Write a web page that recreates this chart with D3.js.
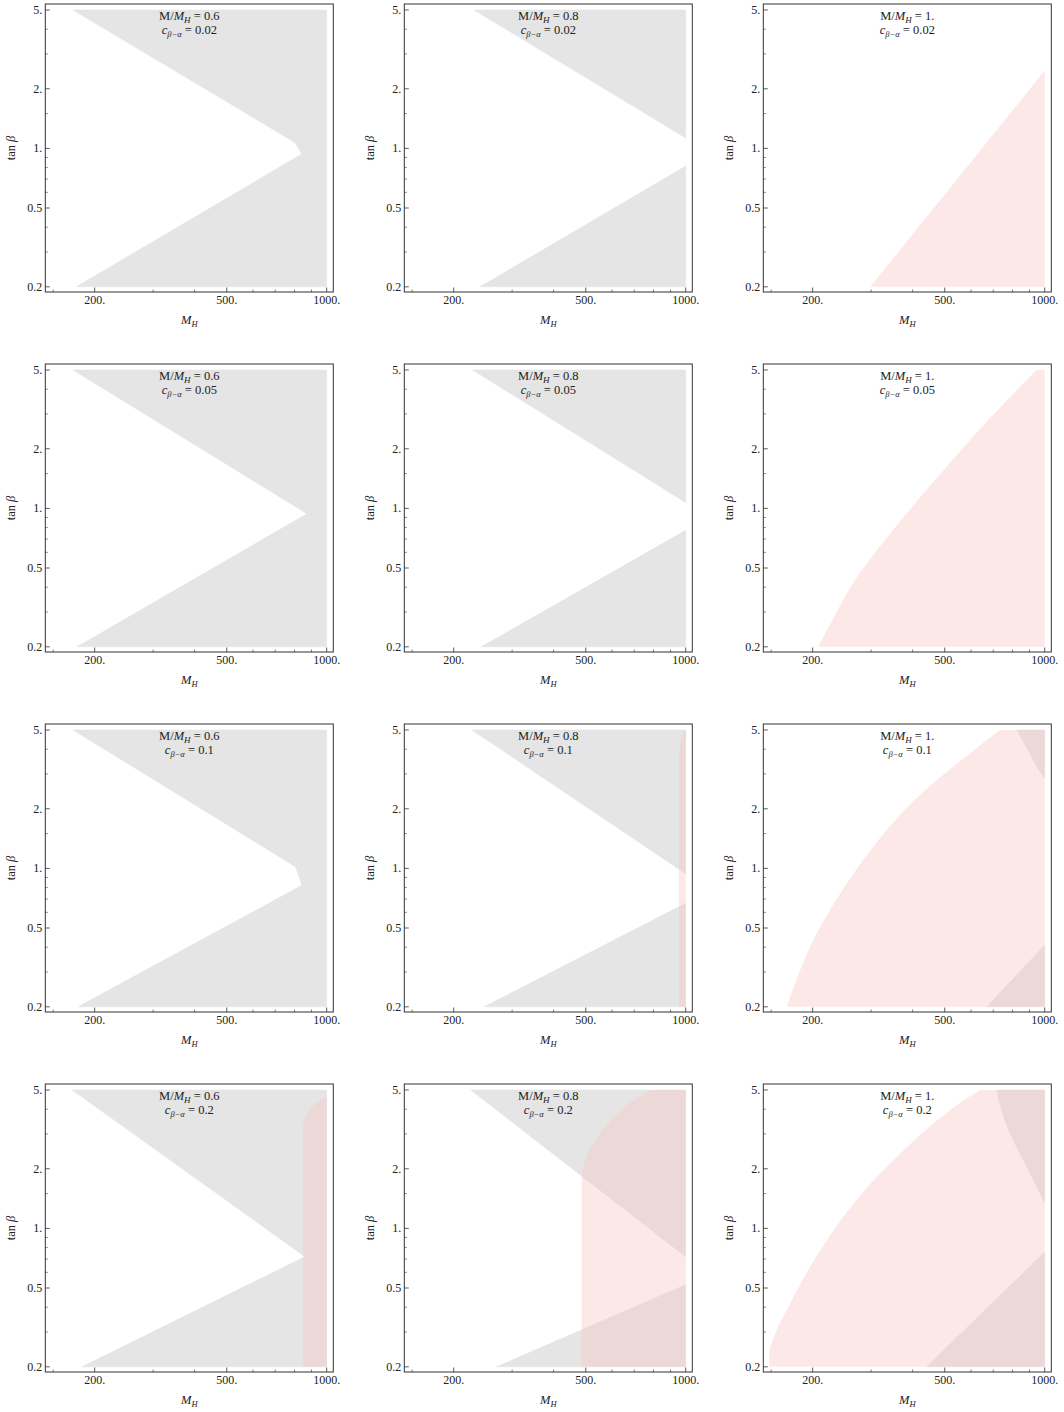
<!DOCTYPE html>
<html><head><meta charset="utf-8">
<script src="https://cdn.jsdelivr.net/npm/d3@7"></script>
<style>
html,body{margin:0;padding:0;background:#fff;}
svg{display:block;}
text{font-family:"Liberation Serif","Times New Roman",serif;fill:#222;}
</style></head>
<body>
<svg id="chart" width="1064" height="1412"></svg>
<script>
// ---------- data ----------
const massRatios = ["0.6", "0.8", "1."];          // columns
const cosBA = ["0.02", "0.05", "0.1", "0.2"];      // rows
const xMajorTicks = [200, 500, 1000];
const xMajorLabels = ["200.", "500.", "1000."];
const xMinorTicks = [150, 300, 400, 600, 700, 800, 900];
const yMajorTicks = [0.2, 0.5, 1, 2, 5];
const yMajorLabels = ["0.2", "0.5", "1.", "2.", "5."];
const yMinorTicks = [0.3, 0.4, 0.6, 0.7, 0.8, 0.9, 1.5, 3, 4];
const xDomain = [142, 1047];
const yDomain = [0.1883, 5.36];

// regions, points are [M_H, tan beta]; "edge" = smooth boundary, "corners" = straight part
const grey_06_002 = {edge: [], corners: [[172,5],[1000,5],[1000,0.2],[176,0.2],[841,0.937],[803,1.069]]};
const grey_06_005 = {edge: [], corners: [[172,5],[1000,5],[1000,0.2],[177,0.2],[872,0.94]]};
const grey_06_01  = {edge: [], corners: [[172,5],[1000,5],[1000,0.2],[178,0.2],[840,0.82],[835,0.86],[805,1.02]]};
const grey_06_02  = {edge: [], corners: [[171,5],[1000,5],[1000,0.2],[183,0.2],[860,0.72]]};
const pink_06_02  = {edge: [[850,3.4],[870,3.81],[911,4.2],[955,4.45],[1000,4.6]], corners: [[1000,0.2],[850,0.2]]};

const greyUp_08_002 = {edge: [], corners: [[230,5],[1000,5],[1000,1.13]]};
const greyLo_08_002 = {edge: [], corners: [[240,0.2],[1000,0.2],[1000,0.815]]};
const greyUp_08_005 = {edge: [], corners: [[228,5],[1000,5],[1000,1.07]]};
const greyLo_08_005 = {edge: [], corners: [[242,0.2],[1000,0.2],[1000,0.775]]};
const greyUp_08_01  = {edge: [], corners: [[227,5],[1000,5],[1000,0.94]]};
const greyLo_08_01  = {edge: [], corners: [[247,0.2],[1000,0.2],[1000,0.667]]};
const pink_08_01    = {edge: [[955,3.8],[962,4.2],[975,4.6],[993,5]], corners: [[1000,5],[1000,0.2],[955,0.2]]};
const greyUp_08_02  = {edge: [], corners: [[225,5],[1000,5],[1000,0.72]]};
const greyLo_08_02  = {edge: [], corners: [[269,0.2],[1000,0.2],[1000,0.52]]};
const pink_08_02    = {edge: [[486,1.82],[497,2.3],[540,2.9],[605,3.67],[695,4.45],[781,5]], corners: [[1000,5],[1000,0.2],[486,0.2]]};

const pink_1_002 = {edge: [], corners: [[298,0.2],[1000,0.2],[1000,2.47]]};
const pink_1_005 = {edge: [[208,0.2],[236,0.3],[259,0.4],[283,0.5],[393,1],[564,2],[700,3],[946,5]], corners: [[1000,5],[1000,0.2]]};
const pink_1_01  = {edge: [[167,0.2],[182,0.3],[196,0.4],[209,0.5],[268,1],[375,2],[495,3],[733,5]], corners: [[1000,5],[1000,0.2]]};
const greyUp_1_01 = {edge: [[823,5],[860,4.4],[903,3.8],[950,3.2],[1000,2.85]], corners: [[1000,5]]};
const greyLo_1_01 = {edge: [], corners: [[669,0.2],[1000,0.2],[1000,0.41]]};
const pink_1_02  = {edge: [[148,0.24],[154,0.3],[169,0.40],[190,0.59],[226,0.94],[284,1.56],[358,2.3],[451,3.3],[569,4.45],[639,5]], corners: [[1000,5],[1000,0.2],[148,0.2]]};
const greyUp_1_02 = {edge: [[717,5],[735,4.1],[768,3.3],[810,2.7],[862,2.22],[903,1.9],[950,1.6],[1000,1.34]], corners: [[1000,5]]};
const greyLo_1_02 = {edge: [], corners: [[441,0.2],[1000,0.2],[1000,0.76]]};

// panel table: [col,row] -> regions
const panels = [
  {c:0, r:0, grey:[grey_06_002], pink:[]},
  {c:0, r:1, grey:[grey_06_005], pink:[]},
  {c:0, r:2, grey:[grey_06_01], pink:[]},
  {c:0, r:3, grey:[grey_06_02], pink:[pink_06_02]},
  {c:1, r:0, grey:[greyUp_08_002, greyLo_08_002], pink:[]},
  {c:1, r:1, grey:[greyUp_08_005, greyLo_08_005], pink:[]},
  {c:1, r:2, grey:[greyUp_08_01, greyLo_08_01], pink:[pink_08_01]},
  {c:1, r:3, grey:[greyUp_08_02, greyLo_08_02], pink:[pink_08_02]},
  {c:2, r:0, grey:[], pink:[pink_1_002]},
  {c:2, r:1, grey:[], pink:[pink_1_005]},
  {c:2, r:2, grey:[greyUp_1_01, greyLo_1_01], pink:[pink_1_01]},
  {c:2, r:3, grey:[greyUp_1_02, greyLo_1_02], pink:[pink_1_02]}
];

// ---------- layout ----------
const colStep = 359, rowStep = 360;
const fx0 = 45.3, fx1 = 333.3, fy0 = 4, fy1 = 292;
const svg = d3.select("#chart");

function regionPath(reg, x, y) {
  let d = "";
  if (reg.edge.length) {
    d = d3.line().x(p => x(p[0])).y(p => y(p[1])).curve(d3.curveBasis)(reg.edge);
  }
  reg.corners.forEach(p => { d += (d ? "L" : "M") + x(p[0]) + "," + y(p[1]); });
  return d + "Z";
}

panels.forEach(p => {
  const dx = p.c * colStep, dy = p.r * rowStep;
  const x = d3.scaleLog().domain(xDomain).range([fx0 + dx, fx1 + dx]);
  const y = d3.scaleLog().domain(yDomain).range([fy1 + dy, fy0 + dy]);
  const g = svg.append("g");

  g.selectAll("path.grey").data(p.grey).enter().append("path")
    .attr("d", d => regionPath(d, x, y)).attr("fill", "#e5e5e5")
    .attr("stroke", "#e5e5e5").attr("stroke-width", 0.5);
  g.selectAll("path.pink").data(p.pink).enter().append("path")
    .attr("d", d => regionPath(d, x, y)).attr("fill", "rgb(250,195,195)").attr("fill-opacity", 0.385);

  // frame
  g.append("rect").attr("x", fx0 + dx).attr("y", fy0 + dy)
    .attr("width", fx1 - fx0).attr("height", fy1 - fy0)
    .attr("fill", "none").attr("stroke", "#333").attr("stroke-width", 1);

  // y ticks (inward)
  g.selectAll("line.ymaj").data(yMajorTicks).enter().append("line")
    .attr("x1", fx0 + dx).attr("x2", fx0 + dx + 4.5)
    .attr("y1", d => y(d)).attr("y2", d => y(d)).attr("stroke", "#333").attr("stroke-width", 0.8);
  g.selectAll("line.ymin").data(yMinorTicks).enter().append("line")
    .attr("x1", fx0 + dx).attr("x2", fx0 + dx + 2.5)
    .attr("y1", d => y(d)).attr("y2", d => y(d)).attr("stroke", "#333").attr("stroke-width", 0.6);
  g.selectAll("text.ylab").data(yMajorTicks).enter().append("text")
    .attr("x", fx0 + dx - 3).attr("y", d => y(d) + 4)
    .attr("text-anchor", "end").attr("font-size", 12)
    .text((d, i) => yMajorLabels[i]);

  // x ticks (inward)
  g.selectAll("line.xmaj").data(xMajorTicks).enter().append("line")
    .attr("y1", fy1 + dy).attr("y2", fy1 + dy - 4.5)
    .attr("x1", d => x(d)).attr("x2", d => x(d)).attr("stroke", "#333").attr("stroke-width", 0.8);
  g.selectAll("line.xmin").data(xMinorTicks).enter().append("line")
    .attr("y1", fy1 + dy).attr("y2", fy1 + dy - 2.5)
    .attr("x1", d => x(d)).attr("x2", d => x(d)).attr("stroke", "#333").attr("stroke-width", 0.6);
  g.selectAll("text.xlab").data(xMajorTicks).enter().append("text")
    .attr("x", d => x(d)).attr("y", fy1 + dy + 12)
    .attr("text-anchor", "middle").attr("font-size", 12)
    .text((d, i) => xMajorLabels[i]);

  // axis labels
  const xl = g.append("text").attr("x", (fx0 + fx1) / 2 + dx).attr("y", fy1 + dy + 32)
    .attr("text-anchor", "middle").attr("font-size", 12.5);
  xl.append("tspan").attr("font-style", "italic").text("M");
  xl.append("tspan").attr("font-style", "italic").attr("font-size", 8.5).attr("dy", 2.5).text("H");

  const yl = g.append("text")
    .attr("transform", `translate(${15 + dx},${(fy0 + fy1) / 2 + dy}) rotate(-90)`)
    .attr("text-anchor", "middle").attr("font-size", 12.5);
  yl.append("tspan").text("tan ");
  yl.append("tspan").attr("font-style", "italic").text("β");

  // titles
  const cx = (fx0 + fx1) / 2 + dx;
  const t1 = g.append("text").attr("x", cx).attr("y", fy0 + dy + 16)
    .attr("text-anchor", "middle").attr("font-size", 12.5);
  t1.append("tspan").text("M/");
  t1.append("tspan").attr("font-style", "italic").text("M");
  t1.append("tspan").attr("font-style", "italic").attr("font-size", 9).attr("dy", 2.5).text("H");
  t1.append("tspan").attr("dy", -2.5).text(" = " + massRatios[p.c]);

  const t2 = g.append("text").attr("x", cx).attr("y", fy0 + dy + 30)
    .attr("text-anchor", "middle").attr("font-size", 12.5);
  t2.append("tspan").attr("font-style", "italic").text("c");
  t2.append("tspan").attr("font-style", "italic").attr("font-size", 8.5).attr("dy", 2.5).text("β−α");
  t2.append("tspan").attr("dy", -2.5).text(" = " + cosBA[p.r]);
});
</script>
</body></html>
